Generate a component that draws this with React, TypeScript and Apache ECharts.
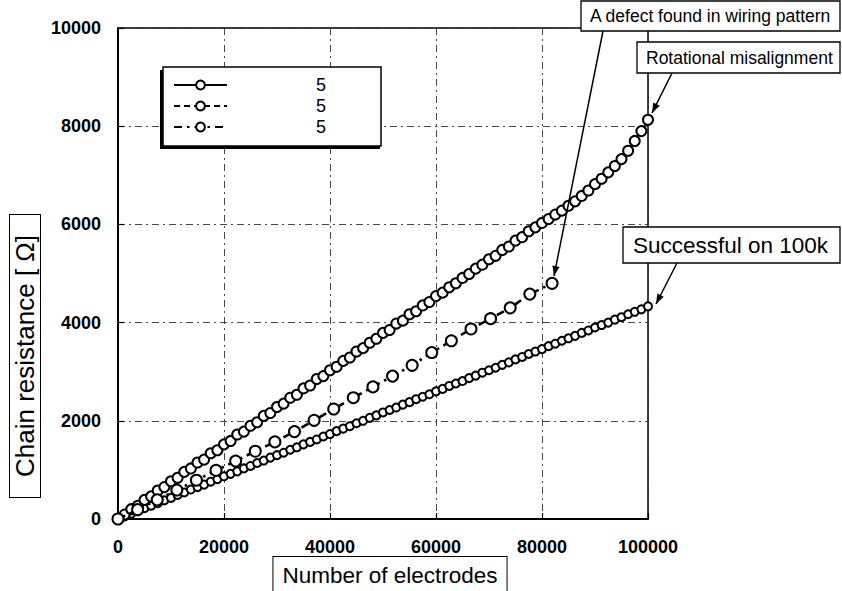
import React, { useEffect, useRef } from "react";
import * as echarts from "echarts";

// Number of electrodes (x) shared by the two dense series
const electrodes = [
  0, 1250, 2500, 3750, 5000, 6250, 7500, 8750, 10000, 11250, 12500, 13750, 15000, 16250, 17500, 18750,
  20000, 21250, 22500, 23750, 25000, 26250, 27500, 28750, 30000, 31250, 32500, 33750, 35000, 36250, 37500, 38750,
  40000, 41250, 42500, 43750, 45000, 46250, 47500, 48750, 50000, 51250, 52500, 53750, 55000, 56250, 57500, 58750,
  60000, 61250, 62500, 63750, 65000, 66250, 67500, 68750, 70000, 71250, 72500, 73750, 75000, 76250, 77500, 78750,
  80000, 81250, 82500, 83750, 85000, 86250, 87500, 88750, 90000, 91250, 92500, 93750, 95000, 96250, 97500, 98750,
  100000,
];

// Series reaching "Rotational misalignment"
const resistanceRotational = [
  0, 90, 200, 270, 390, 460, 580, 650, 770, 840, 960, 1030, 1150, 1210, 1340, 1400,
  1520, 1590, 1720, 1780, 1900, 1970, 2100, 2160, 2280, 2350, 2470, 2530, 2660, 2720, 2850, 2910,
  3030, 3100, 3220, 3290, 3410, 3480, 3590, 3670, 3790, 3850, 3980, 4040, 4170, 4230, 4350, 4420,
  4540, 4610, 4720, 4800, 4910, 4990, 5100, 5180, 5290, 5360, 5480, 5550, 5670, 5740, 5860, 5940,
  6030, 6110, 6200, 6280, 6380, 6470, 6580, 6690, 6820, 6930, 7060, 7190, 7330, 7500, 7700, 7900,
  8130,
];

// Series "Successful on 100k"
const resistanceSuccessful = [
  0, 50, 110, 160, 220, 270, 320, 380, 430, 490, 540, 600, 650, 700, 760, 810,
  870, 920, 970, 1030, 1080, 1140, 1190, 1250, 1300, 1350, 1410, 1460, 1520, 1570, 1620, 1680,
  1730, 1790, 1840, 1890, 1950, 2000, 2060, 2110, 2170, 2220, 2270, 2330, 2380, 2440, 2490, 2540,
  2600, 2650, 2710, 2760, 2810, 2870, 2920, 2980, 3030, 3080, 3140, 3190, 3250, 3300, 3360, 3410,
  3460, 3520, 3570, 3630, 3680, 3730, 3790, 3840, 3900, 3950, 4000, 4060, 4110, 4170, 4220, 4270,
  4330,
];

// Series with "A defect found in wiring pattern"
const defectElectrodes = [
  0, 3700, 7400, 11100, 14800, 18500, 22200, 25900, 29600, 33300, 37000, 40700,
  44400, 48100, 51800, 55500, 59200, 62900, 66600, 70300, 74000, 77700, 81900,
];
const defectResistance = [
  0, 190, 390, 590, 790, 990, 1180, 1380, 1570, 1780, 2010, 2240,
  2470, 2690, 2910, 3130, 3390, 3630, 3870, 4080, 4300, 4580, 4800,
];

const legendLabels = ["5", "5", "5"];
const seriesIds = ["s1", "s2", "s3"];

const xMin = 0;
const xMax = 100000;
const xStep = 20000;
const yMin = 0;
const yMax = 10000;
const yStep = 2000;

const FONT = "'Liberation Sans', Arial, Helvetica, sans-serif";

function pairs(xs: number[], ys: number[]) {
  return xs.map((x, i) => [x, ys[i]]);
}

function arrowHead(tipX: number, tipY: number, fromX: number, fromY: number, len = 10, half = 3.6) {
  const dx = tipX - fromX;
  const dy = tipY - fromY;
  const d = Math.sqrt(dx * dx + dy * dy);
  const ux = dx / d;
  const uy = dy / d;
  const bx = tipX - ux * len;
  const by = tipY - uy * len;
  return [
    [tipX, tipY],
    [bx - uy * half, by + ux * half],
    [bx + uy * half, by - ux * half],
  ];
}

function arrow(x1: number, y1: number, x2: number, y2: number) {
  return [
    {
      type: "line",
      z: 20,
      shape: { x1, y1, x2, y2 },
      style: { stroke: "#000", lineWidth: 1.5 },
    },
    {
      type: "polygon",
      z: 20,
      shape: { points: arrowHead(x2, y2, x1, y1) },
      style: { fill: "#000" },
    },
  ];
}

function labelBox(x: number, y: number, w: number, h: number, text: string, fontSize: number, padX: number) {
  return [
    {
      type: "rect",
      z: 20,
      shape: { x, y, width: w, height: h },
      style: { fill: "#fff", stroke: "#000", lineWidth: 1.3 },
    },
    {
      type: "text",
      z: 21,
      x: x + padX,
      y: y + h / 2,
      style: {
        text,
        fill: "#000",
        font: `${fontSize}px ${FONT}`,
        verticalAlign: "middle",
        align: "left",
      },
    },
  ];
}

export default function App() {
  const ref = useRef<HTMLDivElement>(null);

  useEffect(() => {
    if (!ref.current) return;
    const chart = echarts.init(ref.current, undefined, { renderer: "svg" });

    const splitLine = {
      show: true,
      lineStyle: { color: "#333", width: 0.9, type: [7, 4, 2, 4] },
    };

    const option: any = {
      animation: false,
      backgroundColor: "#fff",
      grid: {
        left: 118,
        right: 194,
        top: 28,
        bottom: 72,
        show: true,
        borderColor: "#000",
        borderWidth: 1.5,
        containLabel: false,
        outerBoundsMode: "none",
      },
      xAxis: {
        type: "value",
        min: xMin,
        max: xMax,
        interval: xStep,
        axisLine: { show: true, lineStyle: { color: "#000", width: 2 } },
        axisTick: { show: true, inside: true, length: 6, lineStyle: { color: "#000", width: 1.2 } },
        splitLine,
        axisLabel: {
          color: "#000",
          fontFamily: FONT,
          fontWeight: "bold",
          fontSize: 18,
          margin: 19,
          formatter: (v: number) => String(v),
        },
      },
      yAxis: {
        type: "value",
        min: yMin,
        max: yMax,
        interval: yStep,
        axisLine: { show: true, lineStyle: { color: "#000", width: 2 } },
        axisTick: { show: true, inside: true, length: 6, lineStyle: { color: "#000", width: 1.2 } },
        splitLine,
        axisLabel: {
          color: "#000",
          fontFamily: FONT,
          fontWeight: "bold",
          fontSize: 18,
          margin: 17,
          formatter: (v: number) => String(v),
        },
      },
      legend: {
        show: true,
        orient: "vertical",
        left: 163,
        top: 67,
        z: 10,
        data: seriesIds,
        formatter: (name: string) => legendLabels[seriesIds.indexOf(name)],
        itemWidth: 53,
        itemHeight: 11,
        itemGap: 3,
        padding: [9, 55, 10, 10],
        backgroundColor: "#fff",
        borderColor: "#000",
        borderWidth: 1.5,
        borderRadius: 0,
        textStyle: {
          color: "#000",
          fontFamily: FONT,
          fontSize: 18,
          lineHeight: 18,
          padding: [0, 0, 0, 84],
        },
      },
      series: [
        {
          id: "s1",
          name: "s1",
          type: "line",
          data: pairs(electrodes, resistanceSuccessful),
          symbol: "emptyCircle",
          symbolSize: 8,
          itemStyle: { color: "#000", borderWidth: 1.4 },
          lineStyle: { color: "#000", width: 1.8, type: "solid" },
          z: 3,
        },
        {
          id: "s2",
          name: "s2",
          type: "line",
          data: pairs(electrodes, resistanceRotational),
          symbol: "emptyCircle",
          symbolSize: 10,
          itemStyle: { color: "#000", borderWidth: 1.3 },
          lineStyle: { color: "#000", width: 1.8, type: [6, 4] },
          z: 4,
        },
        {
          id: "s3",
          name: "s3",
          type: "line",
          data: pairs(defectElectrodes, defectResistance),
          symbol: "emptyCircle",
          symbolSize: 11,
          itemStyle: { color: "#000", borderWidth: 1.2 },
          lineStyle: { color: "#000", width: 2.6, type: [8, 5, 2.5, 5] },
          z: 5,
        },
      ],
      graphic: {
        elements: [
          {
            type: "rect",
            z: 9,
            shape: { x: 160, y: 70, width: 220, height: 79 },
            style: { fill: "#000" },
          },
          {
            type: "text",
            z: 20,
            x: 25,
            y: 356,
            rotation: Math.PI / 2,
            style: {
              text: "Chain resistance [ Ω]",
              fill: "#000",
              font: `26px ${FONT}`,
              align: "center",
              verticalAlign: "middle",
              backgroundColor: "#fff",
              borderColor: "#000",
              borderWidth: 1,
              padding: [3, 20, 1, 20],
            },
          },
          {
            type: "text",
            z: 20,
            x: 390,
            y: 575,
            style: {
              text: "Number of electrodes",
              fill: "#000",
              font: `22.5px ${FONT}`,
              align: "center",
              verticalAlign: "middle",
              backgroundColor: "#fff",
              borderColor: "#000",
              borderWidth: 1,
              padding: [7, 9, 6, 9],
            },
          },
          ...labelBox(581, 1, 259, 30, "A defect found in wiring pattern", 17.5, 9),
          ...labelBox(637, 42, 203, 31, "Rotational misalignment", 17.5, 9),
          ...labelBox(623, 227, 217, 36, "Successful on 100k", 22.5, 10),
          ...arrow(603, 31, 554, 276),
          ...arrow(672, 73, 652, 113),
          ...arrow(677, 263, 656, 304),
        ],
      },
    };

    chart.setOption(option);
    return () => chart.dispose();
  }, []);

  return (
    <div
      ref={ref}
      style={{ position: "fixed", left: 0, top: 0, width: 842, height: 591, background: "#fff" }}
    />
  );
}
